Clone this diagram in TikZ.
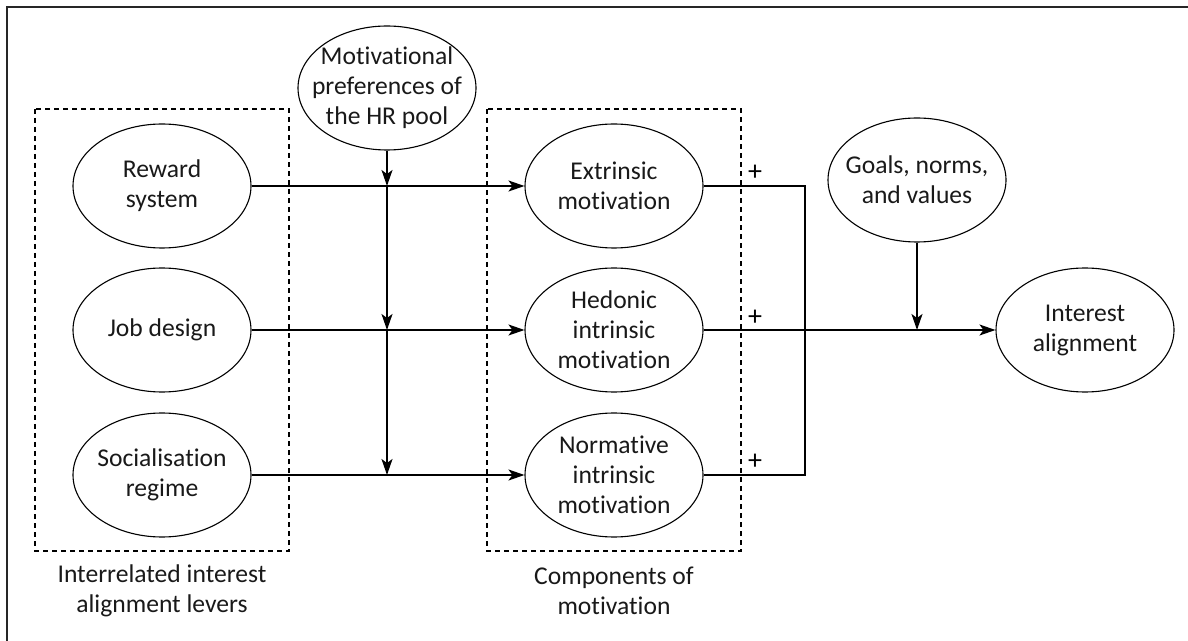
\documentclass[tikz,border=0pt]{standalone}
\usepackage{fontspec}
\setmainfont{Carlito}[Ligatures={NoCommon,NoContextual}]
\usetikzlibrary{shapes.geometric,arrows.meta}
\begin{document}
\begin{tikzpicture}[x=0.5pt,y=-0.5pt,
  ell/.style={draw, ellipse, line width=0.55pt, minimum width=89pt, minimum height=62pt, inner sep=0pt},
  lbl/.style={align=center, font=\fontsize{12.8}{15}\selectfont, text=black!90},
  conn/.style={line width=0.8pt},
  arr/.style={conn, -{Stealth[length=8pt,width=5.5pt,inset=2pt]}},
  grp/.style={draw, dash pattern=on 2.5pt off 2pt, line width=0.6pt},
  plus/.style={font=\fontsize{14}{15}\selectfont, inner sep=0pt}
]
\useasboundingbox (0,0) rectangle (1188,641);
\draw[line width=1pt, black!85] (7,641) -- (7,7) -- (1188,7);

% groups
\draw[grp] (35,109) rectangle (289,551);
\draw[grp] (487,109) rectangle (741,551);
\node[lbl] (glev) at (162,591) {Interrelated interest\\alignment levers};
\node[lbl] (gcomp) at (614,591) {Components of\\motivation};

% nodes
\node[ell, label={[lbl]center:Motivational\\preferences of\\the HR pool}] (mot) at (387,88) {};
\node[ell, label={[lbl]center:Reward\\system}] (rew) at (162,186) {};
\node[ell, label={[lbl]center:Job design}] (job) at (162,330) {};
\node[ell, label={[lbl]center:Socialisation\\regime}] (soc) at (162,475) {};
\node[ell, label={[lbl]center:Extrinsic\\motivation}] (ext) at (614,186) {};
\node[ell, label={[lbl]center:Hedonic\\intrinsic\\motivation}] (hed) at (614,330) {};
\node[ell, label={[lbl]center:Normative\\intrinsic\\motivation}] (norm) at (614,475) {};
\node[ell, label={[lbl]center:Goals, norms,\\and values}] (goal) at (917,180) {};
\node[ell, label={[lbl]center:Interest\\alignment}] (int) at (1085,330) {};

% coordinates
\coordinate (m1) at (387,186);
\coordinate (m2) at (387,330);
\coordinate (m3) at (387,475);
\coordinate (c1) at (805,186);
\coordinate (c3) at (805,475);
\coordinate (g1) at (917,330);

% connectors
\draw[arr] (rew.east) -- (ext.west);
\draw[arr] (job.east) -- (hed.west);
\draw[arr] (soc.east) -- (norm.west);
\draw[arr] (mot.south) -- (m1);
\draw[arr] (m1) -- (m2);
\draw[arr] (m2) -- (m3);
\draw[conn] (ext.east) -- (c1) -- (c3) -- (norm.east);
\draw[arr] (hed.east) -- (int.west);
\draw[arr] (goal.south) -- (g1);

% signs
\node[plus] (p1) at (755,173) {+};
\node[plus] (p2) at (755,318) {+};
\node[plus] (p3) at (755,462) {+};
\end{tikzpicture}
\end{document}
